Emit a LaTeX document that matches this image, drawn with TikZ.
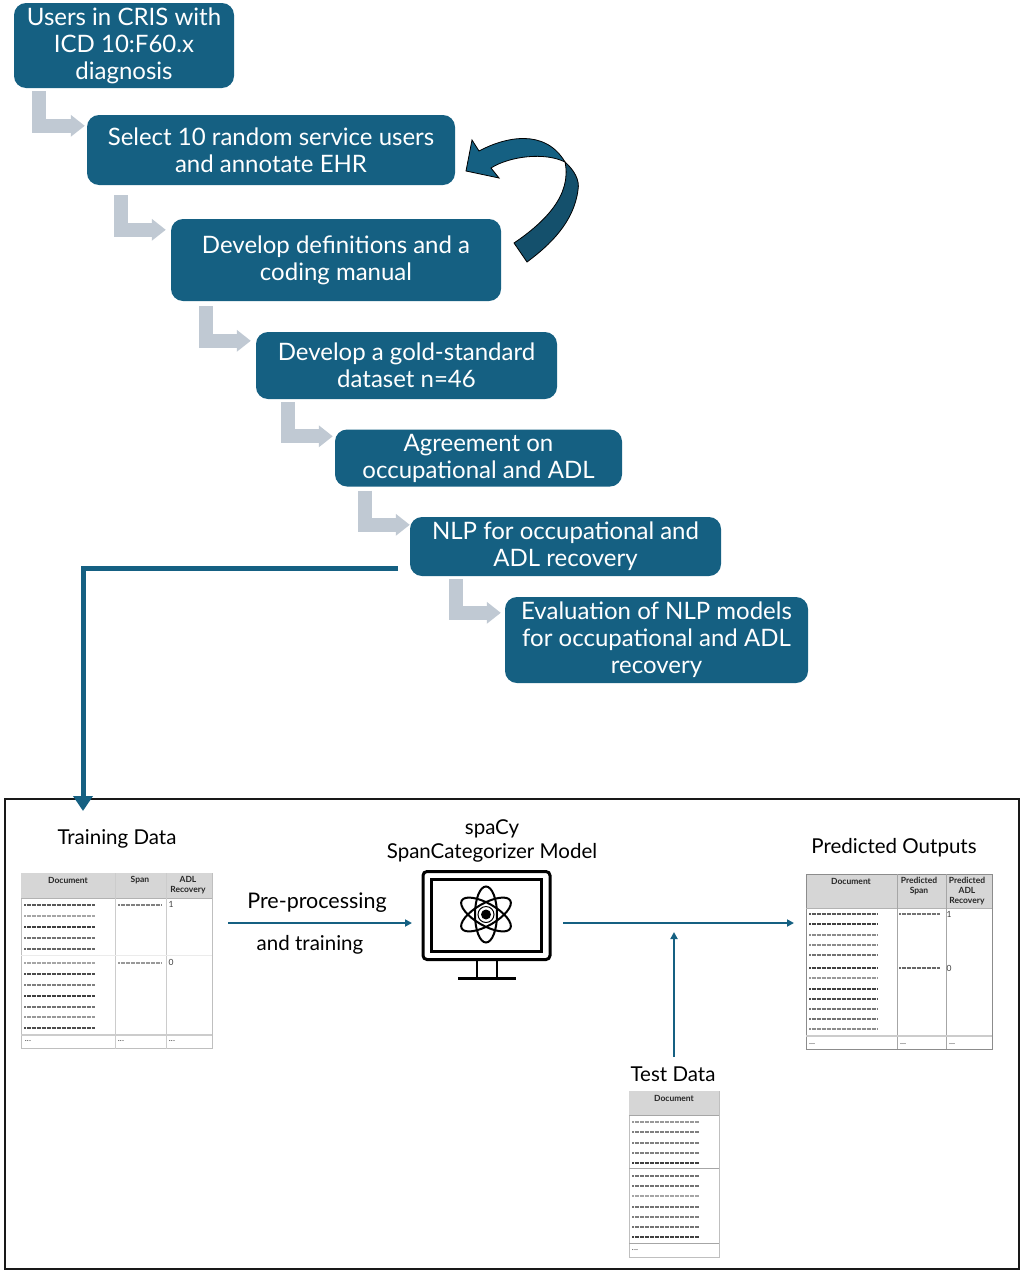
\documentclass[tikz,border=0pt]{standalone}
\usepackage{fontspec}
\setmainfont{Lato}
\usetikzlibrary{arrows.meta}
\definecolor{boxblue}{HTML}{156082}
\definecolor{foldblue}{HTML}{14506C}
\definecolor{greyarrow}{HTML}{C0C9D3}
\tikzset{
	flowbox/.style={fill=boxblue,text=white,align=center,inner sep=0pt,rounded corners=12pt,font=\fontsize{24}{27}\selectfont},
	stepline/.style={draw=greyarrow,line width=14pt,-{Triangle[width=21pt,length=14pt]}},
	thinline/.style={draw=boxblue,line width=1.8pt,-{Triangle[width=7pt,length=7pt]}},
	blockline/.style={draw=boxblue,line width=5pt,-{Triangle[width=19pt,length=15pt]}},
	caption/.style={inner sep=0pt,align=center,font=\fontsize{20.5}{24}\selectfont},
	tablebox/.style={draw=black!25,line width=0.9pt,inner sep=0pt},
	headcell/.style={inner sep=0pt,align=center,font=\fontsize{8.5}{10}\selectfont\bfseries,text=black!85},
	cellnote/.style={inner sep=0pt,font=\fontsize{8.5}{9}\selectfont,text=black!75},
	dashrow/.style={line width=1.1pt,dash pattern=on 2pt off 0.5pt}
}
\begin{document}
\begin{tikzpicture}[x=1pt,y=-1pt]
	\useasboundingbox (0,0) rectangle (1022,1274);

	% flow boxes
	\node[flowbox,minimum width=220pt,minimum height=85pt] (users) at (124,45.5) {Users in CRIS with\\ICD 10:F60.x\\diagnosis};
	\node[flowbox,minimum width=368pt,minimum height=70pt] (annotate) at (271,150) {Select 10 random service users\\and annotate EHR};
	\node[flowbox,minimum width=330pt,minimum height=82pt] (manual) at (336,260) {Develop definitions and a\\coding manual};
	\node[flowbox,minimum width=301pt,minimum height=67pt] (gold) at (406.5,365.5) {Develop a gold-standard\\dataset n=46};
	\node[flowbox,minimum width=287pt,minimum height=57pt] (agree) at (478.5,458) {Agreement on\\occupational and ADL};
	\node[flowbox,minimum width=311pt,minimum height=59pt] (nlp) at (565.5,546.5) {NLP for occupational and\\ADL recovery};
	\node[flowbox,minimum width=303pt,minimum height=86pt] (evaluate) at (656.5,640) {Evaluation of NLP models\\for occupational and ADL\\recovery};

	% grey steps
	\draw[stepline] ([shift={(25,3)}]users.south west) |- ([shift={(-2,11)}]annotate.north west);
	\draw[stepline] ([shift={(34,10)}]annotate.south west) |- ([shift={(-5,11)}]manual.north west);
	\draw[stepline] ([shift={(35,5)}]manual.south west) |- ([shift={(-5,9)}]gold.north west);
	\draw[stepline] ([shift={(32,3)}]gold.south west) |- ([shift={(-2,7)}]agree.north west);
	\draw[stepline] ([shift={(30,4)}]agree.south west) |- ([shift={(0,8)}]nlp.north west);
	\draw[stepline] ([shift={(46,3)}]nlp.south west) |- ([shift={(-4,16)}]evaluate.north west);

	% curved arrow back to the annotation box
	\draw[fill=foldblue,line width=0.8pt] (514,243) .. controls (545,222) and (572,195) .. (565,162)
		.. controls (574,170) and (580,180) .. (578,190) .. controls (574,222) and (550,245) .. (527,262) -- cycle;
	\draw[fill=boxblue,line width=0.8pt] (466,171) -- (472,140) -- (479,151) .. controls (505,137) and (545,128) .. (565,162)
		.. controls (545,152) and (510,156) .. (491,168) -- (499,178) -- cycle;

	% outer frame
	\node[draw=black!90,line width=1.8pt,minimum width=1014pt,minimum height=470pt,inner sep=0pt] (frame) at (512,1034) {};
	\coordinate (nlpout) at (398,568);
	\coordinate (framein) at (83,811);
	\draw[blockline] (nlpout) -| (framein);

	% captions
	\node[caption] (traintitle) at (117,839) {Training Data};
	\node[caption] (modeltitle) at (492,841) {spaCy\\SpanCategorizer Model};
	\node[caption] (predtitle) at (894,848) {Predicted Outputs};
	\node[caption] (testtitle) at (673,1074) {Test Data};
	\node[caption,font=\fontsize{21.5}{24}\selectfont] (prelabel) at (317,903) {Pre-processing};
	\node[caption] (trainlabel) at (310,945) {and training};

	% training table
	\node[tablebox,minimum width=191pt,minimum height=175pt] (traintable) at (116.5,961) {};
	\fill[black!16] (21,873) rectangle (212,898);
	\draw[black!30,line width=0.8pt] (21,898) -- (212,898);
	\draw[black!20,line width=0.7pt] (115,873) -- (115,1049) (166,873) -- (166,1049);
	\draw[black!8,line width=0.5pt] (21,955) -- (212,955);
	\draw[black!20,line width=1.2pt] (21,1035) -- (212,1035);
	\node[headcell] (traindoc) at (68,880) {Document};
	\node[headcell] (trainspan) at (140,880) {Span};
	\node[headcell] (trainadl) at (188,885.5) {ADL\\Recovery};
	\foreach \yy/\shade in {905/65,916/35,927/75,938/55,949/60,963/35,974/70,985/50,996/75,1007/55,1017/40,1028/70}
		\draw[dashrow,black!\shade] (24,\yy) -- (95,\yy);
	\draw[dashrow,black!50] (118,905) -- (161,905);
	\draw[dashrow,black!40] (118,963) -- (161,963);
	\node[cellnote] (trainone) at (171,904) {1};
	\node[cellnote] (trainzero) at (171,962) {0};
	\node[cellnote] (traindots) at (28,1041) {...};
	\node[cellnote] (traindotsb) at (121,1041) {...};
	\node[cellnote] (traindotsc) at (172,1041) {...};

	% model screen
	\node[draw,line width=3pt,rounded corners=4pt,minimum width=127pt,minimum height=88pt,inner sep=0pt] (monitor) at (486.5,915.5) {};
	\node[draw,line width=2.5pt,minimum width=110pt,minimum height=72pt,inner sep=0pt] (screen) at (486.5,915.5) {};
	\draw[line width=2.5pt] (477,960) -- (477,978) (497,960) -- (497,978);
	\draw[line width=3pt] (458,978) -- (516,978);
	\foreach \ang in {90,30,-30}
		\draw[line width=2pt,rotate around={\ang:(486,914.5)}] (486,914.5) ellipse (28 and 11);
	\draw[line width=1pt] (486,914.5) circle (8);
	\fill (486,914.5) circle (5);

	% predicted table
	\node[tablebox,draw=black!45,minimum width=186pt,minimum height=175pt] (predtable) at (899,961.5) {};
	\fill[black!16] (806,874) rectangle (992,908);
	\draw[black!45,line width=0.9pt] (806,874) rectangle (992,1049);
	\draw[black!30,line width=0.8pt] (806,908) -- (992,908);
	\draw[black!35,line width=0.7pt] (897,874) -- (897,1049) (946,874) -- (946,1049);
	\draw[black!20,line width=1.2pt] (806,1036) -- (992,1036);
	\node[headcell] (preddoc) at (851,881) {Document};
	\node[headcell] (predspan) at (919,886) {Predicted\\Span};
	\node[headcell] (predadl) at (967,891) {Predicted\\ADL\\Recovery};
	\foreach \yy/\shade in {914/65,924/75,935/45,945/45,955/55,968/75,978/40,989/75,999/70,1009/55,1019/55,1029/45}
		\draw[dashrow,black!\shade] (809,\yy) -- (877,\yy);
	\draw[dashrow,black!55] (899,914) -- (940,914);
	\draw[dashrow,black!60] (899,968) -- (940,968);
	\node[cellnote] (predone) at (949,914) {1};
	\node[cellnote] (predzero) at (949,968) {0};
	\node[cellnote] (preddots) at (812,1044) {...};
	\node[cellnote] (preddotsb) at (903,1044) {...};
	\node[cellnote] (preddotsc) at (952,1044) {...};

	% test table
	\node[tablebox,minimum width=90pt,minimum height=166pt] (testtable) at (674,1174) {};
	\fill[black!16] (629,1091) rectangle (719,1115);
	\draw[black!35,line width=0.8pt] (629,1115) -- (719,1115);
	\draw[black!35,line width=0.9pt] (629,1168) -- (719,1168);
	\draw[black!35,line width=0.9pt] (629,1243) -- (719,1243);
	\node[headcell] (testdoc) at (674,1098) {Document};
	\foreach \yy/\shade in {1122/40,1132/50,1143/50,1153/50,1163/75,1176/55,1186/55,1196/35,1207/55,1217/50,1227/55,1237/75}
		\draw[dashrow,black!\shade] (632,\yy) -- (699,\yy);
	\node[cellnote] (testdots) at (635,1250) {...};

	% thin arrows
	\coordinate (preout) at (228,923);
	\coordinate (prein) at (412,923);
	\coordinate (modelout) at (563,923);
	\coordinate (predin) at (794,923);
	\coordinate (testout) at (674,1057);
	\coordinate (testin) at (674,932);
	\draw[thinline] (preout) -- (prein);
	\draw[thinline] (modelout) -- (predin);
	\draw[thinline] (testout) -- (testin);
\end{tikzpicture}
\end{document}
